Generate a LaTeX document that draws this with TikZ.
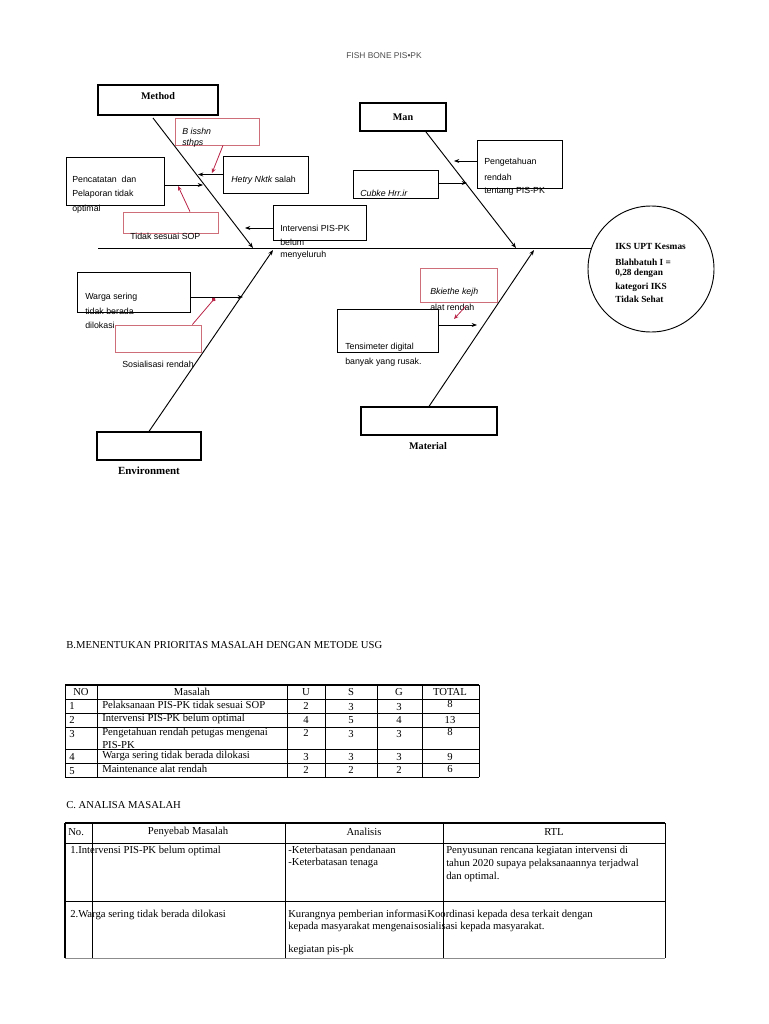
\documentclass[tikz,border=0pt]{standalone}
\usepackage{fontspec}
\setmainfont{Liberation Serif}
\setsansfont{Liberation Sans}
\usetikzlibrary{arrows.meta,fit,calc}
\definecolor{boxred}{RGB}{205,110,120}
\definecolor{arrred}{RGB}{185,35,70}
\begin{document}
\begin{tikzpicture}[x=0.75pt,y=-0.75pt,
 box/.style={draw,line width=0.9pt,inner sep=0pt},
 rbox/.style={draw=boxred,line width=0.6pt,inner sep=0pt},
 bone/.style={line width=0.7pt},
 arr/.style={line width=0.6pt,-{Stealth[length=4pt,width=3pt]}},
 rarr/.style={draw=arrred,line width=0.6pt,-{Stealth[length=3.5pt,width=3pt]}},
 st/.style={font=\sffamily\fontsize{6.6}{7.5}\selectfont,inner sep=0pt,anchor=west},
 sti/.style={font=\sffamily\itshape\fontsize{6.6}{7.5}\selectfont,inner sep=0pt,anchor=west},
 lab/.style={font=\bfseries\fontsize{7.6}{8}\selectfont,inner sep=0pt},
 ctx/.style={font=\bfseries\fontsize{7}{7.5}\selectfont,inner sep=0pt,anchor=west},
 tb/.style={font=\fontsize{8}{9}\selectfont,inner sep=0pt},
 tbl/.style={tb,anchor=west},
 grid/.style={line width=0.6pt},
]
\useasboundingbox (0,0) rectangle (768,1024);

% title
\node[font=\sffamily\fontsize{6.3}{7}\selectfont,text=black!70] (title) at (384,56) {FISH BONE PIS•PK};

% spine and head
\node[draw,circle,line width=0.7pt,minimum size=94.5pt,inner sep=0pt] (head) at (651,269) {};
\coordinate (spL) at (98,248);
\coordinate (spR) at (592,248);
\draw[bone] (spL) -- (spR);
\node[ctx] (c1) at (615,246) {IKS UPT Kesmas};
\node[ctx] (c2) at (615,262) {Blahbatuh I =};
\node[ctx] (c3) at (615,273) {0,28 dengan};
\node[ctx] (c4) at (615,287) {kategori IKS};
\node[ctx] (c5) at (615,299) {Tidak Sehat};

% category boxes
\node[box,fit={(98,85)(218,115)}] (method) {};
\node[lab] (methodl) at (158,96) {Method};
\node[box,fit={(360,103)(446,131)}] (man) {};
\node[lab] (manl) at (403,117) {Man};
\node[box,fit={(361,407)(497,435)}] (material) {};
\node[lab] (materiall) at (428,446) {Material};
\node[box,fit={(97,432)(201,460)}] (env) {};
\node[lab,font=\bfseries\fontsize{8.2}{9}\selectfont] (envl) at (149,471) {Environment};

% bones
\coordinate (mB) at (153,118);
\coordinate (mE) at (253,248);
\coordinate (nB) at (426,132);
\coordinate (nE) at (516,248);
\coordinate (eE) at (273,250);
\coordinate (tE) at (534,250);
\draw[bone,arr,line width=0.7pt] (mB) -- (mE);
\draw[bone,arr,line width=0.7pt] (nB) -- (nE);
\draw[bone,arr,line width=0.7pt] (env.north) -- (eE);
\draw[bone,arr,line width=0.7pt] (material.north) -- (tE);

% Method causes
\node[rbox,fit={(175,118)(259,145)}] (bis) {};
\node[sti] (bis1) at (182,131) {B isshn};
\node[sti] (bis2) at (182,143) {sthps};
\node[box,line width=0.7pt,fit={(223,156)(308,193)}] (hetry) {};
\node[st] (hetryt) at (231,180) {\itshape Hetry Nktk \upshape salah};
\coordinate (hetT) at (198,174.5);
\draw[arr] (hetry.west) -- (hetT);
\coordinate (bisT) at (212,173);
\draw[rarr] ([xshift=4.5pt]bis.south) -- (bisT);

\node[box,line width=0.7pt,fit={(66,157)(164,205)}] (pen) {};
\node[st] (pen1) at (72,179) {Pencatatan\ \ dan};
\node[st] (pen2) at (72,194) {Pelaporan tidak};
\node[st] (pen3) at (72,209) {optimal};
\coordinate (penT) at (203,185);
\draw[arr] (pen.east |- penT) -- (penT);

\node[rbox,fit={(123,212)(218,233)}] (tsop) {};
\node[st] (tsopt) at (130,236) {Tidak sesuai SOP};
\coordinate (tsopT) at (178,186);
\draw[rarr] ([xshift=14.6pt]tsop.north) -- (tsopT);

\node[box,line width=0.7pt,fit={(273,205)(366,240)}] (interv) {};
\node[st] (int1) at (280,228) {Intervensi PIS-PK};
\node[st] (int2) at (280,242) {belum};
\node[st] (int3) at (280,255) {menyeluruh};
\coordinate (intT) at (245,228);
\draw[arr] (interv.west |- intT) -- (intT);

% Environment causes
\node[box,line width=0.7pt,fit={(77,272)(190,312)}] (warga) {};
\node[st] (w1) at (85,297) {Warga sering};
\node[st] (w2) at (85,311) {tidak berada};
\node[st] (w3) at (85,325) {dilokasi};
\coordinate (wT) at (243,297);
\draw[arr] (warga.east |- wT) -- (wT);

\node[rbox,fit={(115,325)(201,352)}] (sos) {};
\node[st] (sost) at (122,364) {Sosialisasi rendah};
\coordinate (sosT) at (215,298);
\draw[draw=arrred,line width=0.6pt,-{Circle[length=3pt]}] ([xshift=-6.8pt]sos.north east) -- (sosT);

% Man causes
\node[box,line width=0.7pt,fit={(477,140)(562,188)}] (peng) {};
\node[st] (p1) at (484,162) {Pengetahuan};
\node[st] (p2) at (484,177) {rendah};
\node[st] (p3) at (484,191) {tentang PIS-PK};
\coordinate (pT) at (454,161);
\draw[arr] (peng.west |- pT) -- (pT);

\node[box,line width=0.7pt,fit={(353,170)(438,198)}] (cub) {};
\node[sti] (cubt) at (360,193) {Cubke Hrr.ir};
\coordinate (cT) at (467,183);
\draw[arr] (cub.east |- cT) -- (cT);

% Material causes
\node[rbox,fit={(420,268)(497,302)}] (bk) {};
\node[sti] (bk1) at (430,292) {Bkiethe kejh};
\node[st] (bk2) at (430,307) {alat rendah};
\node[box,line width=0.7pt,fit={(337,309)(438,352)}] (tens) {};
\node[st] (t1) at (345,347) {Tensimeter digital};
\node[st] (t2) at (345,362) {banyak yang rusak.};
\coordinate (tT) at (477,325);
\draw[arr] (tens.east |- tT) -- (tT);
\coordinate (bkS) at (466,306);
\coordinate (bkT) at (454,319);
\draw[rarr] (bkS) -- (bkT);

% ===== Table B =====
\node[tbl] (btitle) at (66,645) {B.MENENTUKAN PRIORITAS MASALAH DENGAN METODE USG};
\draw[line width=1.1pt] (65,685) -- (479,685);
\foreach \yy in {699,713,727,749,763,777} \draw[grid] (65,\yy) -- (479,\yy);
\foreach \xx in {65,97,287,325,377,422,479} \draw[grid] (\xx,685) -- (\xx,777);
\node[tb] (bh1) at (81,692) {NO};
\node[tb] (bh2) at (192,692) {Masalah};
\node[tb] (bh3) at (306,692) {U};
\node[tb] (bh4) at (351,692) {S};
\node[tb] (bh5) at (399,692) {G};
\node[tb] (bh6) at (450,692) {TOTAL};
\node[tbl] (b1a) at (69,706) {1};
\node[tbl] (b1b) at (102,705) {Pelaksanaan PIS-PK tidak sesuai SOP};
\node[tb] (b1c) at (306,706) {2};
\node[tb] (b1d) at (351,707) {3};
\node[tb] (b1e) at (399,707) {3};
\node[tb] (b1f) at (450,704) {8};
\node[tbl] (b2a) at (69,720) {2};
\node[tbl] (b2b) at (102,719) {Intervensi PIS-PK belum optimal};
\node[tb] (b2c) at (306,720) {4};
\node[tb] (b2d) at (351,720) {5};
\node[tb] (b2e) at (399,720) {4};
\node[tb] (b2f) at (450,720) {13};
\node[tbl] (b3a) at (69,734) {3};
\node[tbl] (b3b) at (102,733) {Pengetahuan rendah petugas mengenai};
\node[tbl] (b3g) at (102,745) {PIS-PK};
\node[tb] (b3c) at (306,733) {2};
\node[tb] (b3d) at (351,734) {3};
\node[tb] (b3e) at (399,734) {3};
\node[tb] (b3f) at (450,732) {8};
\node[tbl] (b4a) at (69,757) {4};
\node[tbl] (b4b) at (102,756) {Warga sering tidak berada dilokasi};
\node[tb] (b4c) at (306,757) {3};
\node[tb] (b4d) at (351,757) {3};
\node[tb] (b4e) at (399,757) {3};
\node[tb] (b4f) at (450,757) {9};
\node[tbl] (b5a) at (69,771) {5};
\node[tbl] (b5b) at (102,769) {Maintenance alat rendah};
\node[tb] (b5c) at (306,770) {2};
\node[tb] (b5d) at (351,770) {2};
\node[tb] (b5e) at (399,770) {2};
\node[tb] (b5f) at (450,769) {6};

% ===== Table C =====
\node[tbl] (ctitle) at (66,805) {C. ANALISA MASALAH};
\draw[line width=1.5pt] (65,823) -- (665,823);
\draw[grid] (65,843) -- (665,843);
\draw[grid] (65,901) -- (665,901);
\draw[grid,black!45] (65,958) -- (665,958);
\draw[line width=1.3pt] (65,823) -- (65,958);
\foreach \xx in {92,285,443,665} \draw[grid] (\xx,823) -- (\xx,958);
\node[tbl] (ch1) at (68,832) {No.};
\node[tb] (ch2) at (188,832) {Penyebab Masalah};
\node[tb] (ch3) at (364,832) {Analisis};
\node[tb] (ch4) at (554,832) {RTL};
\node[tbl] (c11) at (70,851) {1.Intervensi PIS-PK belum optimal};
\node[tbl] (c12) at (288,851) {-Keterbatasan pendanaan};
\node[tbl] (c13) at (288,863) {-Keterbatasan tenaga};
\node[tbl] (c14) at (446,851) {Penyusunan rencana kegiatan intervensi di};
\node[tbl] (c15) at (446,864) {tahun 2020 supaya pelaksanaannya terjadwal};
\node[tbl] (c16) at (446,877) {dan optimal.};
\node[tbl] (c21) at (70,915) {2.Warga sering tidak berada dilokasi};
\node[tbl] (c22) at (288,915) {Kurangnya pemberian informasi};
\node[tbl] (c23) at (288,927) {kepada masyarakat mengenai};
\node[tbl] (c24) at (288,950) {kegiatan pis-pk};
\node[tbl] (c25) at (c22.east) {Koordinasi kepada desa terkait dengan};
\node[tbl] (c26) at (c23.east) {sosialisasi kepada masyarakat.};
\end{tikzpicture}
\end{document}
